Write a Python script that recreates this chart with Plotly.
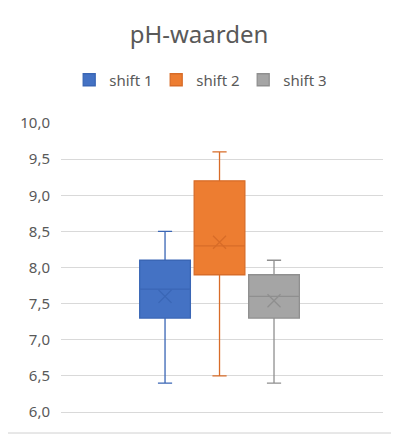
import plotly.graph_objects as go

categories = ["shift 1", "shift 2", "shift 3"]
positions = [1, 2, 3]
lower_whisker = [6.4, 6.5, 6.4]
q1_values = [7.3, 7.9, 7.3]
medians = [7.7, 8.3, 7.6]
q3_values = [8.1, 9.2, 7.9]
upper_whisker = [8.5, 9.6, 8.1]
means = [7.6, 8.35, 7.54]

fill_colors = ["#4472C4", "#ED7D31", "#A5A5A5"]
line_colors = ["#3A66B5", "#D86C28", "#8F8F8F"]

# page renders with an 8px body offset; figure coordinates compensate
OFF = 8
PL, PR, PT, PB = 58 - OFF, 383 - OFF, 123 - OFF, 412 - OFF
W, H = 399, 437
PW, PH = PR - PL, PB - PT

fig = go.Figure()
for i, name in enumerate(categories):
    fig.add_trace(go.Box(
        x=[positions[i]], q1=[q1_values[i]], median=[medians[i]], q3=[q3_values[i]],
        lowerfence=[lower_whisker[i]], upperfence=[upper_whisker[i]],
        name=name, width=0.93, whiskerwidth=0.28,
        fillcolor=fill_colors[i], line=dict(color=line_colors[i], width=1.3),
        boxpoints=False, hoverinfo="skip",
    ))
for i, name in enumerate(categories):
    fig.add_trace(go.Scatter(
        x=[positions[i]], y=[means[i]], mode="markers", showlegend=False,
        marker=dict(symbol="x-thin-open", size=13, color=line_colors[i],
                    line=dict(color=line_colors[i], width=1.3)),
        hoverinfo="skip",
    ))

font = "Noto Sans, Open Sans, sans-serif"
fig.update_layout(
    width=W, height=H,
    margin=dict(l=PL, r=W - PR, t=PT, b=H - PB),
    paper_bgcolor="white", plot_bgcolor="white",
    separators=",.",
    font=dict(family=font, color="#595959", size=14),
    title=dict(text="pH-waarden", x=(199 - OFF) / W, xanchor="center", y=1 - (35 - OFF) / H, yanchor="middle",
               font=dict(size=24, color="#595959", family=font)),
    legend=dict(orientation="h", x=(198 - OFF - PL) / PW, xanchor="center", y=(PB - (80 - OFF)) / PH,
                yanchor="middle", font=dict(size=15, color="#595959"),
                entrywidth=42, entrywidthmode="pixels", traceorder="normal",
                bgcolor="rgba(0,0,0,0)"),
    showlegend=True,
    xaxis=dict(range=[-0.909, 5.0], showticklabels=False, showgrid=False, zeroline=False,
               showline=True, linecolor="#D9D9D9", linewidth=1, fixedrange=True),
    yaxis=dict(range=[6, 10], dtick=0.5, tickformat=".1f", showgrid=True, gridcolor="#D9D9D9",
               gridwidth=1, zeroline=False, showline=False, ticks="", tickfont=dict(size=15, color="#595959"),
               ticklabelstandoff=10),
    shapes=[
        dict(type="rect", xref="paper", yref="paper",
             x0=(3 - OFF - PL) / PW, x1=(396 - OFF - PL) / PW,
             y0=(PB - (433 - OFF)) / PH, y1=(PB - (2 - OFF)) / PH,
             line=dict(color="#D0D0D0", width=1), fillcolor="rgba(0,0,0,0)", layer="below"),
    ],
)

fig.write_html("out.html")
